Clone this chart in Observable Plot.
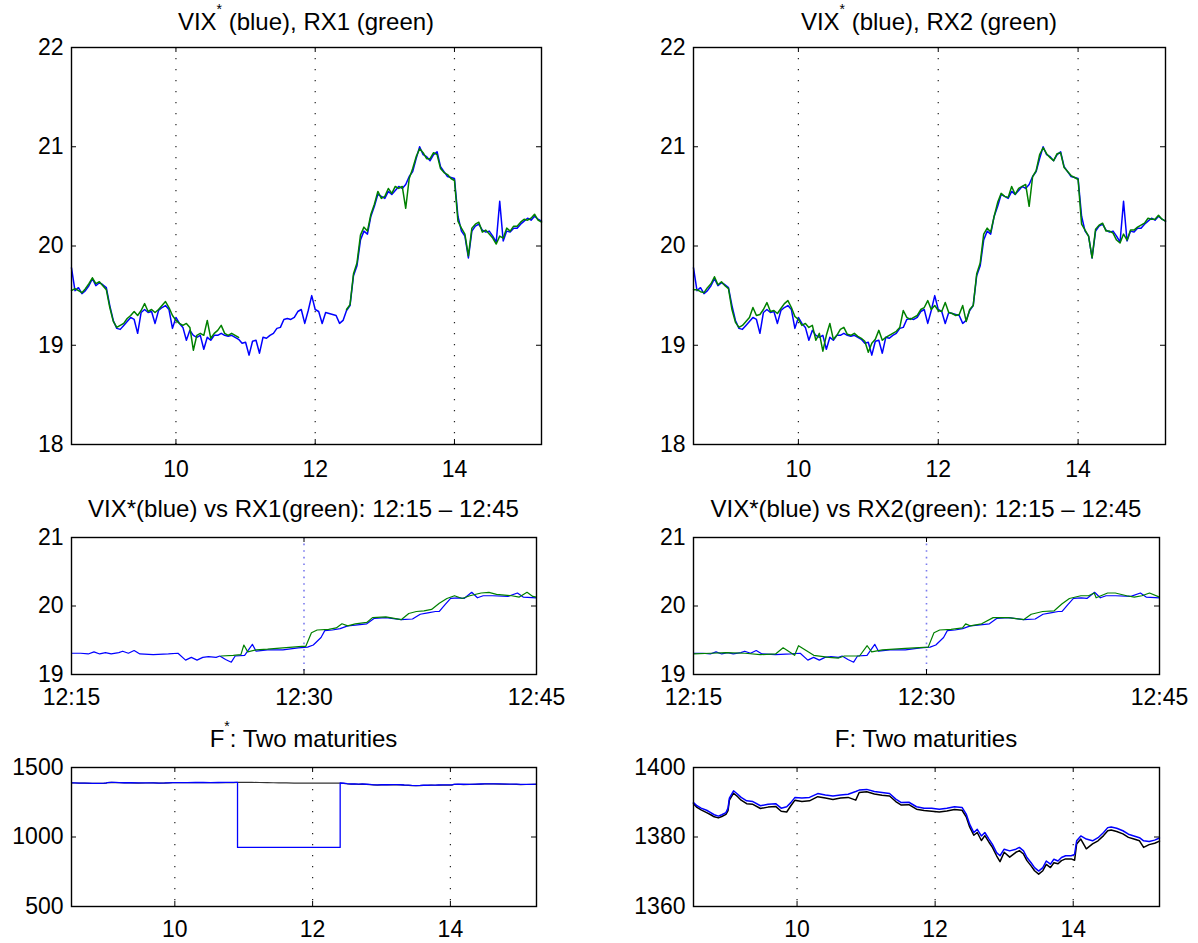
<!DOCTYPE html>
<html>
<head>
<meta charset="utf-8">
<script src="https://cdn.jsdelivr.net/npm/d3@7"></script>
<script src="https://cdn.jsdelivr.net/npm/@observablehq/plot@0.6"></script>
<style>
  body { margin: 0; background: #fff; }
  #fig { position: relative; width: 1198px; height: 943px; overflow: hidden;
         font-family: "Liberation Sans", Arial, Helvetica, sans-serif; }
  #fig svg { position: absolute; overflow: visible; }
</style>
</head>
<body>
<div id="fig"></div>
<script>
// ---- intraday VIX* and replicating indices (hours, CT) ----
const vixTimes = [
  8.50, 8.55, 8.60, 8.65, 8.70, 8.75, 8.80, 8.85, 8.90, 8.95,
  9.00, 9.05, 9.10, 9.15, 9.20, 9.25, 9.30, 9.35, 9.40, 9.45,
  9.50, 9.55, 9.60, 9.65, 9.70, 9.75, 9.80, 9.85, 9.90, 9.95,
  10.00, 10.05, 10.10, 10.15, 10.20, 10.25, 10.30, 10.35, 10.40, 10.45,
  10.50, 10.55, 10.60, 10.65, 10.70, 10.75, 10.80, 10.85, 10.90, 10.95,
  11.00, 11.05, 11.10, 11.15, 11.20, 11.25, 11.30, 11.35, 11.40, 11.45,
  11.50, 11.55, 11.60, 11.65, 11.70, 11.75, 11.80, 11.85, 11.90, 11.95,
  12.00, 12.05, 12.10, 12.15, 12.20, 12.25, 12.30, 12.35, 12.40, 12.45,
  12.50, 12.55, 12.60, 12.65, 12.70, 12.75, 12.80, 12.85, 12.90, 12.95,
  13.00, 13.05, 13.10, 13.15, 13.20, 13.25, 13.30, 13.35, 13.40, 13.45,
  13.50, 13.55, 13.60, 13.65, 13.70, 13.75, 13.80, 13.85, 13.90, 13.95,
  14.00, 14.05, 14.10, 14.15, 14.20, 14.25, 14.30, 14.35, 14.40, 14.45,
  14.50, 14.55, 14.60, 14.65, 14.70, 14.75, 14.80, 14.85, 14.90, 14.95,
  15.00, 15.05, 15.10, 15.15, 15.20, 15.25
];
const vixStar = [
  19.78, 19.55, 19.58, 19.52, 19.55, 19.60, 19.67, 19.60, 19.63, 19.61,
  19.58, 19.40, 19.25, 19.17, 19.16, 19.20, 19.24, 19.28, 19.26, 19.12,
  19.33, 19.36, 19.33, 19.34, 19.22, 19.35, 19.38, 19.40, 19.36, 19.17,
  19.28, 19.22, 19.18, 19.05, 19.15, 19.10, 19.08, 19.10, 18.96, 19.08,
  19.05, 19.10, 19.10, 19.12, 19.10, 19.09, 19.10, 19.08, 19.06, 19.02,
  19.03, 18.90, 19.04, 19.05, 18.92, 19.08, 19.07, 19.10, 19.12, 19.17,
  19.18, 19.26, 19.27, 19.26, 19.28, 19.34, 19.36, 19.22, 19.35, 19.50,
  19.36, 19.34, 19.22, 19.33, 19.32, 19.31, 19.30, 19.22, 19.25, 19.35,
  19.40, 19.70, 19.80, 20.06, 20.15, 20.12, 20.30, 20.40, 20.52, 20.50,
  20.48, 20.55, 20.52, 20.56, 20.60, 20.58, 20.62, 20.70, 20.75, 20.88,
  21.00, 20.92, 20.90, 20.86, 20.92, 20.95, 20.80, 20.75, 20.70, 20.69,
  20.68, 20.30, 20.15, 20.10, 19.88, 20.15, 20.20, 20.22, 20.16, 20.14,
  20.15, 20.10, 20.04, 20.45, 20.05, 20.15, 20.14, 20.18, 20.18, 20.22,
  20.25, 20.28, 20.26, 20.30, 20.27, 20.25
];
// RX1 has no quote between 10:55 and 12:25
const rx1 = [
  19.55, 19.57, 19.55, 19.53, 19.57, 19.62, 19.68, 19.62, 19.64, 19.60,
  19.56, 19.38, 19.24, 19.18, 19.20, 19.22, 19.27, 19.30, 19.34, 19.30,
  19.35, 19.42, 19.34, 19.36, 19.33, 19.36, 19.40, 19.44, 19.38, 19.30,
  19.25, 19.22, 19.20, 19.22, 19.18, 18.95, 19.10, 19.12, 19.10, 19.25,
  19.07, 19.12, 19.15, 19.20, 19.12, 19.10, 19.12, 19.10, 19.08, null,
  null, null, null, null, null, null, null, null, null, null,
  null, null, null, null, null, null, null, null, null, null,
  null, null, null, null, null, null, null, null, null, 19.36,
  19.41, 19.72, 19.83, 20.11, 20.19, 20.15, 20.32, 20.42, 20.55, 20.48,
  20.50, 20.58, 20.53, 20.60, 20.58, 20.60, 20.38, 20.68, 20.78, 20.90,
  20.98, 20.94, 20.88, 20.88, 20.94, 20.92, 20.78, 20.74, 20.72, 20.68,
  20.66, 20.25, 20.18, 20.12, 19.90, 20.18, 20.22, 20.24, 20.14, 20.16,
  20.12, 20.08, 20.02, 20.10, 20.08, 20.18, 20.15, 20.20, 20.20, 20.24,
  20.27, 20.26, 20.28, 20.32, 20.26, 20.24
];
const rx2 = [
  19.56, 19.56, 19.54, 19.53, 19.58, 19.62, 19.69, 19.61, 19.64, 19.60,
  19.57, 19.36, 19.23, 19.18, 19.20, 19.24, 19.28, 19.38, 19.30, 19.31,
  19.36, 19.43, 19.34, 19.35, 19.32, 19.37, 19.42, 19.45, 19.38, 19.29,
  19.26, 19.20, 19.22, 19.18, 19.20, 19.05, 19.12, 18.94, 19.10, 19.22,
  19.06, 19.10, 19.16, 19.18, 19.11, 19.10, 19.12, 19.09, 19.07, 19.04,
  18.93, 19.02, 19.06, 19.15, 19.05, 19.08, 19.10, 19.12, 19.14, 19.18,
  19.35, 19.28, 19.26, 19.28, 19.30, 19.36, 19.38, 19.45, 19.36, 19.40,
  19.35, 19.34, 19.43, 19.33, 19.32, 19.30, 19.31, 19.40, 19.24, 19.36,
  19.40, 19.72, 19.83, 20.12, 20.18, 20.14, 20.30, 20.44, 20.53, 20.50,
  20.49, 20.60, 20.52, 20.58, 20.60, 20.62, 20.40, 20.70, 20.76, 20.92,
  20.99, 20.93, 20.89, 20.86, 20.93, 20.94, 20.79, 20.75, 20.71, 20.69,
  20.67, 20.22, 20.16, 20.10, 19.88, 20.17, 20.21, 20.23, 20.15, 20.15,
  20.13, 20.06, 20.03, 20.12, 20.06, 20.16, 20.16, 20.19, 20.21, 20.23,
  20.28, 20.27, 20.27, 20.31, 20.27, 20.25
];

// ---- 12:15 - 12:45 close-up (minutes after 12:00) ----
const vixMidMinutes = [15.00, 15.59, 16.08, 16.45, 16.82, 17.19, 17.56, 18.05, 18.30, 18.67,
  19.04, 19.41, 20.27, 21.25, 21.87, 22.36, 22.73, 23.10, 23.47, 23.84, 24.33, 24.57, 24.94,
  25.31, 25.56, 26.17, 26.67, 26.91, 27.65, 28.64, 29.62, 30.23, 30.60, 31.10, 31.34, 31.83,
  32.33, 32.82, 33.31, 34.05, 34.54, 35.28, 36.27, 37.00, 37.50, 37.99, 38.48, 38.73, 39.10,
  39.46, 39.96, 40.33, 40.82, 41.19, 41.56, 42.17, 43.16, 43.77, 44.14, 45.00];
const vixMid = [19.31, 19.31, 19.30, 19.33, 19.30, 19.32, 19.30, 19.32, 19.34, 19.31,
  19.35, 19.30, 19.29, 19.30, 19.31, 19.21, 19.25, 19.21, 19.25, 19.26, 19.25, 19.27, 19.22,
  19.18, 19.27, 19.28, 19.44, 19.34, 19.36, 19.36, 19.39, 19.40, 19.43, 19.54, 19.64, 19.65,
  19.67, 19.71, 19.72, 19.74, 19.82, 19.83, 19.80, 19.81, 19.88, 19.90, 19.92, 19.92, 20.02,
  20.11, 20.12, 20.11, 20.20, 20.12, 20.15, 20.15, 20.14, 20.19, 20.13, 20.12];
const rx1MidMinutes = [24.65, 25.44, 25.93, 26.12, 26.37, 26.91, 27.65, 28.64, 29.87, 30.11,
  30.48, 30.85, 31.59, 32.08, 32.45, 32.82, 33.31, 34.05, 34.42, 35.28, 36.27, 36.76, 37.25,
  37.74, 38.23, 38.73, 39.22, 39.71, 40.20, 40.70, 41.43, 41.93, 42.42, 43.40, 43.89, 44.39,
  44.76, 45.00];
const rx1Mid = [19.27, 19.28, 19.29, 19.43, 19.33, 19.36, 19.37, 19.39, 19.41, 19.41,
  19.61, 19.65, 19.66, 19.68, 19.74, 19.71, 19.74, 19.76, 19.83, 19.84, 19.80, 19.89, 19.92,
  19.93, 19.95, 20.04, 20.11, 20.15, 20.11, 20.15, 20.19, 20.20, 20.17, 20.15, 20.13, 20.20,
  20.14, 20.13];
const rx2MidMinutes = [15.00, 16.11, 17.09, 18.32, 19.30, 20.28, 20.77, 21.51, 21.76, 22.25,
  22.74, 23.72, 24.34, 24.71, 25.69, 26.18, 26.47, 27.16, 28.64, 30.11, 30.48, 30.85, 31.58,
  32.32, 32.52, 32.81, 33.55, 34.29, 35.27, 36.25, 36.74, 37.48, 38.22, 38.71, 39.20, 39.94,
  40.43, 40.80, 40.92, 41.66, 42.15, 42.89, 43.38, 43.87, 44.36, 45.00];
const rx2Mid = [19.30, 19.31, 19.32, 19.31, 19.29, 19.30, 19.39, 19.28, 19.42, 19.35,
  19.28, 19.25, 19.24, 19.27, 19.27, 19.42, 19.33, 19.36, 19.38, 19.40, 19.61, 19.65, 19.66,
  19.68, 19.74, 19.71, 19.74, 19.83, 19.83, 19.80, 19.88, 19.92, 19.93, 20.03, 20.11, 20.15,
  20.15, 20.19, 20.12, 20.19, 20.19, 20.15, 20.13, 20.15, 20.19, 20.13];

// ---- futures prices for the two maturities ----
const fTimes = [8.50, 8.55, 8.61, 8.69, 8.75, 8.80, 8.86, 8.91, 8.97, 9.00,
  9.02, 9.08, 9.14, 9.19, 9.27, 9.36, 9.47, 9.58, 9.69, 9.77,
  9.85, 9.91, 9.97, 10.07, 10.18, 10.30, 10.41, 10.52, 10.63, 10.74,
  10.85, 10.90, 11.01, 11.12, 11.23, 11.34, 11.43, 11.51, 11.62, 11.73,
  11.84, 11.95, 12.06, 12.17, 12.28, 12.39, 12.45, 12.50, 12.56, 12.61,
  12.67, 12.72, 12.78, 12.83, 12.89, 12.94, 13.00, 13.08, 13.17, 13.22,
  13.28, 13.33, 13.39, 13.44, 13.50, 13.56, 13.61, 13.67, 13.72, 13.78,
  13.83, 13.89, 13.97, 14.02, 14.05, 14.11, 14.19, 14.28, 14.36, 14.44,
  14.50, 14.55, 14.63, 14.72, 14.80, 14.88, 14.96, 15.02, 15.10, 15.18, 15.25];
const fNext = [1389.9, 1389.0, 1388.3, 1387.7, 1387.0, 1386.4, 1386.0, 1386.4, 1387.0, 1388.3,
  1391.2, 1393.3, 1392.3, 1391.4, 1390.4, 1390.2, 1389.0, 1389.4, 1389.6, 1388.3,
  1388.7, 1389.9, 1391.4, 1391.2, 1391.4, 1392.5, 1392.1, 1391.8, 1392.1, 1392.3,
  1393.1, 1393.5, 1393.7, 1393.1, 1392.8, 1392.5, 1390.9, 1389.9, 1390.0, 1388.7,
  1388.3, 1388.3, 1388.0, 1388.3, 1388.7, 1388.5, 1386.6, 1383.7, 1381.3, 1382.2,
  1380.3, 1381.3, 1379.4, 1377.9, 1375.5, 1374.6, 1376.5, 1376.0, 1376.5, 1377.0,
  1376.0, 1374.1, 1372.6, 1371.2, 1370.2, 1371.2, 1373.1, 1372.2, 1373.6, 1373.1,
  1374.1, 1374.6, 1374.6, 1375.0, 1378.9, 1380.3, 1379.4, 1378.9, 1379.8, 1381.3,
  1382.7, 1382.9, 1382.5, 1381.8, 1380.8, 1380.3, 1379.8, 1378.9, 1378.7, 1379.1, 1379.7];
const fNear = [1389.6, 1388.5, 1387.8, 1387.0, 1386.4, 1385.8, 1385.5, 1385.9, 1386.5, 1387.6,
  1390.6, 1392.6, 1391.6, 1390.6, 1389.6, 1389.4, 1388.2, 1388.6, 1388.8, 1387.4,
  1387.2, 1389.0, 1390.6, 1390.2, 1390.4, 1391.6, 1391.2, 1390.8, 1391.2, 1391.4,
  1390.6, 1392.8, 1393.0, 1392.4, 1392.0, 1391.8, 1390.2, 1389.2, 1389.3, 1388.0,
  1387.6, 1387.4, 1387.2, 1387.5, 1387.9, 1387.7, 1385.8, 1382.9, 1380.5, 1381.3,
  1379.0, 1380.4, 1378.5, 1377.0, 1374.6, 1372.9, 1375.6, 1374.2, 1375.6, 1376.1,
  1375.1, 1373.2, 1371.7, 1370.3, 1369.3, 1370.3, 1372.1, 1371.2, 1372.6, 1372.3,
  1373.2, 1373.7, 1373.7, 1373.3, 1378.0, 1379.4, 1376.6, 1378.0, 1378.9, 1380.4,
  1381.8, 1382.0, 1381.6, 1380.9, 1379.9, 1379.4, 1378.9, 1377.0, 1377.8, 1378.2, 1378.8];
// F* for the next maturity breaks down between 10:55 and 12:24
const fStarGapTimes = [10.91, 10.91, 12.40, 12.40];
const fStarGapValues = [1393.5, 925, 925, 1388.5];

// ---- axes ----
const hourTicks = [10, 12, 14];
const hourLabels = ["10", "12", "14"];
const vixTicks = [18, 19, 20, 21, 22];
const midMinuteTicks = [15, 30, 45];
const midMinuteLabels = ["12:15", "12:30", "12:45"];
const midTicks = [19, 20, 21];
const fStarTicks = [500, 1000, 1500];
const fTicks = [1360, 1380, 1400];

const BLUE = "#0000ff", GREEN = "#008000", BLACK = "#000000";

// series tables
const rows = (xs, ys) => xs.map((t, i) => ({t, v: ys[i]}));
const vixRows = rows(vixTimes, vixStar);
const rx1Rows = rows(vixTimes, rx1);
const rx2Rows = rows(vixTimes, rx2);
const vixMidRows = rows(vixMidMinutes, vixMid);
const rx1MidRows = rows(rx1MidMinutes, rx1Mid);
const rx2MidRows = rows(rx2MidMinutes, rx2Mid);
const fNextRows = rows(fTimes, fNext);
const fNearRows = rows(fTimes, fNear);
const fStarNextRows = [
  ...fNextRows.filter(d => d.t < fStarGapTimes[0]),
  ...rows(fStarGapTimes, fStarGapValues),
  ...fNextRows.filter(d => d.t > fStarGapTimes[3])
];

const fig = document.getElementById("fig");
const FONT = '"Liberation Sans", Arial, Helvetica, sans-serif';

function panel(p) {
  const mL = 90, mR = 45, mT = 12, mB = 48;
  const w = p.x1 - p.x0, h = p.y1 - p.y0, tick = 5;
  const svg = Plot.plot({
    width: w + mL + mR, height: h + mT + mB,
    marginLeft: mL, marginRight: mR, marginTop: mT, marginBottom: mB,
    x: {domain: p.xDomain},
    y: {domain: p.yDomain},
    style: {fontFamily: FONT, fontSize: "23px", color: "#000", background: "transparent", overflow: "visible"},
    marks: [
      Plot.ruleX(p.grid, {x: d => d, stroke: p.gridStroke, strokeWidth: p.gridWidth, strokeDasharray: p.gridDash}),
      ...p.marks,
      Plot.tickX(p.xTicks, {x: d => d, stroke: BLACK, strokeWidth: 1, insetTop: h - tick}),
      Plot.tickX(p.xTicks, {x: d => d, stroke: BLACK, strokeWidth: 1, insetBottom: h - tick}),
      Plot.tickY(p.yTicks, {y: d => d, stroke: BLACK, strokeWidth: 1, insetRight: w - tick}),
      Plot.tickY(p.yTicks, {y: d => d, stroke: BLACK, strokeWidth: 1, insetLeft: w - tick}),
      Plot.frame({stroke: BLACK, strokeWidth: 1.4}),
      Plot.axisX({ticks: p.xTicks, tickSize: 0, tickPadding: p.xPad, label: null,
                  tickFormat: d => p.xLabels[p.xTicks.indexOf(d)]}),
      Plot.axisY({ticks: p.yTicks, tickSize: 0, tickPadding: 8, label: null, tickFormat: d => String(d)})
    ]
  });
  svg.style.left = (p.x0 - mL) + "px";
  svg.style.top = (p.y0 - mT) + "px";
  fig.appendChild(svg);
}

const line = (data, stroke, width = 1.5) => Plot.line(data, {x: "t", y: "v", stroke, strokeWidth: width});
const hourDomain = [8.5, 15.25];

const panels = [
  {x0: 71, y0: 47, x1: 541, y1: 444, base: 29.5, title: ["VIX", "*", " (blue), RX1 (green)"],
   xDomain: hourDomain, yDomain: [18, 22], xTicks: hourTicks, xLabels: hourLabels, yTicks: vixTicks,
   grid: hourTicks, gridStroke: "#222", gridWidth: 1.2, gridDash: "1.2,9.8", xPad: 16,
   marks: [line(vixRows, BLUE), line(rx1Rows, GREEN)]},
  {x0: 693, y0: 47, x1: 1165, y1: 444, base: 29.5, title: ["VIX", "*", " (blue), RX2 (green)"],
   xDomain: hourDomain, yDomain: [18, 22], xTicks: hourTicks, xLabels: hourLabels, yTicks: vixTicks,
   grid: hourTicks, gridStroke: "#222", gridWidth: 1.2, gridDash: "1.2,9.8", xPad: 16,
   marks: [line(vixRows, BLUE), line(rx2Rows, GREEN)]},
  {x0: 71, y0: 537, x1: 536, y1: 674, base: 516.7, title: ["VIX*(blue) vs RX1(green): 12:15 \u2013 12:45"],
   xDomain: [15, 45], yDomain: [19, 21], xTicks: midMinuteTicks, xLabels: midMinuteLabels, yTicks: midTicks,
   grid: [30], gridStroke: "#7b7bee", gridWidth: 1.6, gridDash: "1.6,5", xPad: 14,
   marks: [line(vixMidRows, BLUE, 1.2), line(rx1MidRows, GREEN, 1.2)]},
  {x0: 693, y0: 537, x1: 1159, y1: 674, base: 516.7, title: ["VIX*(blue) vs RX2(green): 12:15 \u2013 12:45"],
   xDomain: [15, 45], yDomain: [19, 21], xTicks: midMinuteTicks, xLabels: midMinuteLabels, yTicks: midTicks,
   grid: [30], gridStroke: "#7b7bee", gridWidth: 1.6, gridDash: "1.6,5", xPad: 14,
   marks: [line(vixMidRows, BLUE, 1.2), line(rx2MidRows, GREEN, 1.2)]},
  {x0: 71, y0: 767, x1: 536, y1: 906, base: 746.7, title: ["F", "*", ": Two maturities"],
   xDomain: hourDomain, yDomain: [500, 1500], xTicks: hourTicks, xLabels: hourLabels, yTicks: fStarTicks,
   grid: hourTicks, gridStroke: "#222", gridWidth: 1.2, gridDash: "1.2,9.8", xPad: 14,
   marks: [line(fNearRows, "#333", 1.2), line(fStarNextRows, BLUE, 1.3)]},
  {x0: 693, y0: 767, x1: 1159, y1: 906, base: 746.7, title: ["F: Two maturities"],
   xDomain: hourDomain, yDomain: [1360, 1400], xTicks: hourTicks, xLabels: hourLabels, yTicks: fTicks,
   grid: hourTicks, gridStroke: "#222", gridWidth: 1.2, gridDash: "1.2,9.8", xPad: 14,
   marks: [line(fNearRows, BLACK, 1.5), line(fNextRows, BLUE, 1.5)]}
];

panels.forEach(panel);

// subplot titles
const overlay = d3.select(fig).append("svg")
  .attr("width", 1198).attr("height", 943)
  .style("left", "0px").style("top", "0px").style("pointer-events", "none");
panels.forEach(p => {
  const text = overlay.append("text")
    .attr("x", (p.x0 + p.x1) / 2).attr("y", p.base)
    .attr("text-anchor", "middle")
    .attr("font-family", FONT).attr("font-size", 24).attr("fill", "#000");
  if (p.title.length === 1) {
    text.text(p.title[0]);
  } else {
    text.append("tspan").text(p.title[0]);
    text.append("tspan").attr("font-size", 14).attr("dy", -16).text(p.title[1]);
    text.append("tspan").attr("dy", 16).text(p.title[2]);
  }
});
</script>
</body>
</html>
